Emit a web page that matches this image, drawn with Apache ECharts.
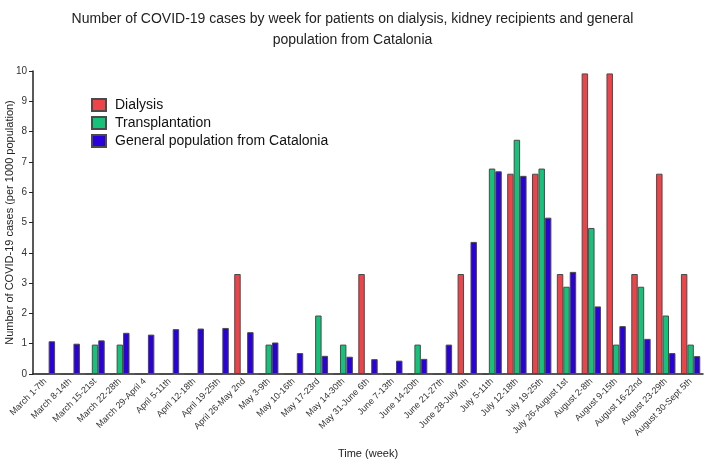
<!DOCTYPE html>
<html><head><meta charset="utf-8">
<script src="https://cdn.jsdelivr.net/npm/echarts@6/dist/echarts.min.js"></script>
<style>html,body{margin:0;padding:0;background:#fff}#c{width:705px;height:462px}</style>
</head><body><div id="c"></div>
<script>
var categories = ["March 1-7th","March 8-14th","March 15-21st","March 22-28th","March 29-April 4","April 5-11th","April 12-18th","April 19-25th","April 26-May 2nd","May 3-9th","May 10-16th","May 17-23rd","May 14-30th","May 31-June 6th","June 7-13th","June 14-20th","June 21-27th","June 28-July 4th","July 5-11th","July 12-18th","July 19-25th","July 26-August 1st","August 2-8th","August 9-15th","August 16-22nd","August 23-29th","August 30-Sept 5th"];
var dialysis = [0,0,0,0,0,0,0,0,3.3,0,0,0,0,3.3,0,0,0,3.3,0,6.61,6.61,3.3,9.92,9.92,3.3,6.61,3.3];
var transplantation = [0,0,0.97,0.97,0,0,0,0,0,0.97,0,1.93,0.97,0,0,0.97,0,0,6.78,7.73,6.78,2.88,4.82,0.97,2.88,1.93,0.97];
var generalPop = [1.08,1.0,1.11,1.36,1.3,1.48,1.5,1.52,1.38,1.04,0.69,0.6,0.57,0.49,0.44,0.5,0.97,4.36,6.69,6.54,5.16,3.37,2.23,1.58,1.16,0.69,0.59];
var yTicks = [0,1,2,3,4,5,6,7,8,9,10];

var font = 'Arial, "Liberation Sans", sans-serif';
var chart = echarts.init(document.getElementById('c'));
function s(name, data, color){
  return {name:name,type:'bar',data:data,barGap:'0%',barCategoryGap:'22%',
    itemStyle:{color:color,borderColor:'#4a4a4a',borderWidth:1}};
}
chart.setOption({
  animation:false,
  title:{text:'Number of COVID-19 cases by week for patients on dialysis, kidney recipients and general\npopulation from Catalonia',
    left:'center',top:4,textStyle:{fontFamily:font,fontSize:14,fontWeight:'normal',color:'#222',lineHeight:21}},
  legend:{orient:'vertical',left:86,top:93,itemWidth:14,itemHeight:12,itemGap:4,icon:'rect',
    textStyle:{fontFamily:font,fontSize:14,color:'#111',padding:[0,0,0,4]},
    data:['Dialysis','Transplantation','General population from Catalonia']},
  grid:{left:33,right:2,top:71,bottom:88,containLabel:false,outerBoundsMode:'none'},
  xAxis:{type:'category',data:categories,name:'Time (week)',nameLocation:'middle',nameGap:74,nameMoveOverlap:false,
    nameTextStyle:{fontFamily:font,fontSize:11,color:'#222'},
    axisLine:{lineStyle:{color:'#222',width:1.5}},
    axisTick:{alignWithLabel:true,length:4,lineStyle:{color:'#222'}},
    axisLabel:{rotate:45,fontFamily:font,fontSize:9,color:'#333',margin:6,interval:0}},
  yAxis:{type:'value',min:0,max:10,interval:1,name:'Number of COVID-19 cases (per 1000 population)',
    nameLocation:'middle',nameGap:18,nameMoveOverlap:false,nameTextStyle:{fontFamily:font,fontSize:11,color:'#222'},
    axisLine:{show:true,lineStyle:{color:'#222',width:1.5}},
    axisTick:{show:true,length:4,lineStyle:{color:'#222'}},
    splitLine:{show:false},
    axisLabel:{fontFamily:font,fontSize:10,color:'#333',margin:6}},
  series:[s('Dialysis',dialysis,'#EE4348'),s('Transplantation',transplantation,'#14C27A'),s('General population from Catalonia',generalPop,'#2A00DD')]
});
</script></body></html>
